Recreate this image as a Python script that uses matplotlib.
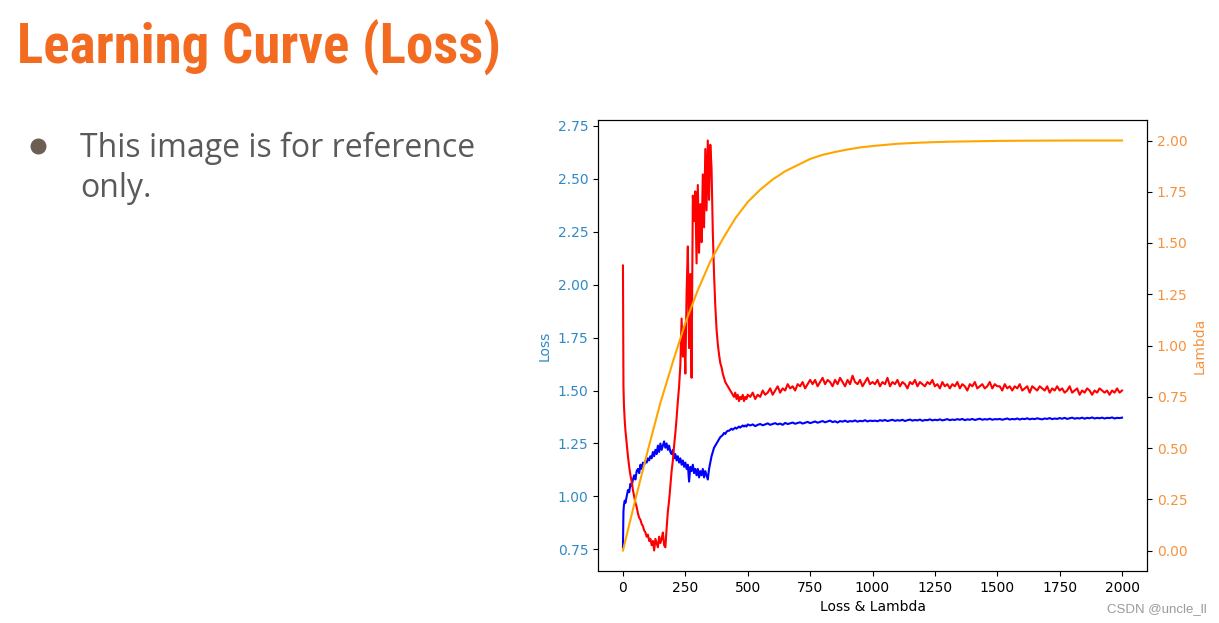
import matplotlib
matplotlib.use("Agg")
import matplotlib.pyplot as plt
import numpy as np
from matplotlib import font_manager
from matplotlib.lines import Line2D

# early part of training (steps 0..500)
early_steps = np.concatenate(([0, 1, 2, 4, 7], np.arange(10, 501, 5)))

red_early = [
    2.09, 1.78, 1.52, 1.43, 1.36,
    1.31, 1.25, 1.19, 1.14, 1.10, 1.07, 1.03, 1.00, 0.97, 0.95,
    0.92, 0.90, 0.89, 0.87, 0.86, 0.84, 0.83, 0.81, 0.82, 0.79,
    0.80, 0.77, 0.79, 0.745, 0.80, 0.78, 0.76, 0.81, 0.78, 0.80,
    0.83, 0.77, 0.76, 0.85, 0.93, 0.98, 1.05, 1.12, 1.17, 1.24,
    1.30, 1.37, 1.45, 1.52, 1.62, 1.84, 1.66, 1.80, 1.58, 1.96,
    2.18, 1.70, 2.05, 1.56, 2.42, 2.30, 2.44, 2.10, 2.47, 2.15,
    2.38, 2.20, 2.52, 2.27, 2.64, 2.35, 2.68, 2.40, 2.66, 2.55,
    2.25, 2.05, 1.90, 1.79, 1.72, 1.67, 1.63, 1.61, 1.58, 1.56,
    1.54, 1.53, 1.52, 1.51, 1.50, 1.49, 1.48, 1.47, 1.49, 1.46,
    1.48, 1.45, 1.47, 1.46, 1.48, 1.45, 1.47, 1.46, 1.48,
]

blue_early = [
    0.76, 0.85, 0.93, 0.96, 0.98,
    0.97, 1.00, 1.03, 1.02, 1.06, 1.05, 1.08, 1.10, 1.08, 1.12,
    1.13, 1.11, 1.15, 1.13, 1.16, 1.15, 1.17, 1.16, 1.18, 1.17,
    1.19, 1.18, 1.21, 1.19, 1.22, 1.20, 1.24, 1.21, 1.25, 1.22,
    1.24, 1.26, 1.23, 1.25, 1.22, 1.24, 1.21, 1.20, 1.22, 1.18,
    1.20, 1.17, 1.19, 1.16, 1.18, 1.15, 1.17, 1.14, 1.16, 1.13,
    1.15, 1.07, 1.14, 1.12, 1.15, 1.11, 1.13, 1.10, 1.13, 1.09,
    1.12, 1.10, 1.13, 1.09, 1.12, 1.10, 1.08, 1.13, 1.16, 1.19,
    1.21, 1.23, 1.24, 1.25, 1.26, 1.27, 1.28, 1.285, 1.29, 1.30,
    1.295, 1.305, 1.31, 1.31, 1.315, 1.32, 1.315, 1.32, 1.325, 1.32,
    1.325, 1.33, 1.325, 1.33, 1.335, 1.33, 1.335, 1.33, 1.34,
]

# later part (steps 510..2000, every 10 steps)
red_late = [
    1.47, 1.49, 1.46, 1.48, 1.47, 1.50, 1.48, 1.49, 1.51, 1.48, 1.50, 1.52, 1.49,
    1.51, 1.50, 1.53, 1.51, 1.52, 1.50, 1.53, 1.52, 1.54, 1.51, 1.53, 1.55,
    1.53, 1.55, 1.52, 1.54, 1.56, 1.53, 1.55, 1.54, 1.52, 1.55, 1.53, 1.56, 1.54,
    1.52, 1.55, 1.53, 1.57, 1.54, 1.53, 1.55, 1.52, 1.54, 1.56, 1.53, 1.54,
    1.53, 1.55, 1.52, 1.54, 1.53, 1.56, 1.52, 1.54, 1.53, 1.55, 1.52, 1.54, 1.53,
    1.51, 1.54, 1.53, 1.55, 1.52, 1.54, 1.53, 1.52, 1.54, 1.53, 1.55, 1.52,
    1.53, 1.51, 1.54, 1.52, 1.53, 1.51, 1.53, 1.52, 1.54, 1.51, 1.53, 1.52, 1.50,
    1.53, 1.52, 1.54, 1.51, 1.52, 1.53, 1.51, 1.52, 1.54, 1.51, 1.53, 1.52,
    1.52, 1.50, 1.53, 1.51, 1.52, 1.50, 1.52, 1.51, 1.53, 1.50, 1.51, 1.52, 1.49,
    1.52, 1.51, 1.50, 1.52, 1.51, 1.50, 1.52, 1.49, 1.51, 1.50, 1.52, 1.50,
    1.51, 1.49, 1.50, 1.52, 1.49, 1.50, 1.51, 1.48, 1.50, 1.49, 1.51, 1.50, 1.48,
    1.50, 1.49, 1.51, 1.50, 1.49, 1.50, 1.48, 1.50, 1.49, 1.51, 1.49, 1.50,
]

blue_late = [
    1.335, 1.34, 1.332, 1.338, 1.342, 1.336, 1.34, 1.345, 1.338, 1.342, 1.346, 1.34, 1.344,
    1.338, 1.347, 1.342, 1.345, 1.349, 1.343, 1.347, 1.35, 1.344, 1.348, 1.352, 1.346,
    1.35, 1.354, 1.348, 1.352, 1.356, 1.35, 1.354, 1.358, 1.351, 1.355, 1.349, 1.356, 1.353,
    1.358, 1.352, 1.356, 1.354, 1.359, 1.353, 1.357, 1.355, 1.36, 1.354, 1.358, 1.356,
    1.358, 1.355, 1.36, 1.357, 1.361, 1.356, 1.359, 1.362, 1.357, 1.36, 1.358, 1.362, 1.356,
    1.36, 1.363, 1.358, 1.361, 1.359, 1.363, 1.357, 1.361, 1.36, 1.364, 1.359, 1.362,
    1.36, 1.364, 1.359, 1.362, 1.365, 1.36, 1.363, 1.361, 1.365, 1.362, 1.366, 1.36, 1.364,
    1.362, 1.366, 1.361, 1.364, 1.367, 1.362, 1.365, 1.363, 1.367, 1.362, 1.365, 1.364,
    1.366, 1.362, 1.365, 1.368, 1.363, 1.366, 1.364, 1.368, 1.363, 1.367, 1.365, 1.369, 1.364,
    1.367, 1.365, 1.369, 1.366, 1.364, 1.368, 1.366, 1.37, 1.365, 1.368, 1.366, 1.37,
    1.367, 1.371, 1.366, 1.369, 1.372, 1.367, 1.37, 1.368, 1.372, 1.367, 1.371, 1.369, 1.373,
    1.368, 1.371, 1.369, 1.372, 1.368, 1.371, 1.37, 1.373, 1.368, 1.371, 1.37, 1.372,
]

lambda_steps = [0, 50, 100, 150, 200, 250, 300, 350, 400, 450, 500, 550, 600, 650,
                700, 750, 800, 850, 900, 950, 1000, 1100, 1200, 1300, 1400, 1500,
                1600, 1800, 2000]
lambda_values = [0.0, 0.25, 0.49, 0.72, 0.92, 1.11, 1.27, 1.41, 1.52, 1.62, 1.70,
                 1.76, 1.81, 1.85, 1.88, 1.91, 1.93, 1.944, 1.956, 1.966, 1.973,
                 1.984, 1.99, 1.994, 1.996, 1.998, 1.999, 2.0, 2.0]

title = "Learning Curve (Loss)"
bullet = ["This image is for reference", "only."]

blue_tick = "#2f8ac4"
orange_tick = "#f5923e"

W, H = 1219, 623
fig = plt.figure(figsize=(W / 100, H / 100), dpi=100)
fig.patch.set_facecolor("white")

available = {f.name for f in font_manager.fontManager.ttflist}
title_family = next((f for f in ["Liberation Sans Narrow", "Roboto Condensed",
                                 "Open Sans Condensed", "DejaVu Sans"] if f in available), "DejaVu Sans")
body_family = "Open Sans" if "Open Sans" in available else "DejaVu Sans"

# slide title, scaled to the width it has in the reference
t = fig.text(17 / W, 1 - 63 / H, title, color="#f26b21", fontsize=40,
             fontweight="bold", family=title_family, va="baseline", ha="left")
fig.canvas.draw()
w = t.get_window_extent().width
t.set_fontsize(40 * 483 / w)

# bullet point
fig.add_artist(Line2D([38 / W], [1 - 146 / H], marker="o", markersize=10.5,
                      color="#6a5f52", transform=fig.transFigure))
fig.text(80 / W, 1 - 157 / H, bullet[0], color="#5a5a5a", fontsize=23,
         family=body_family, va="baseline")
fig.text(80 / W, 1 - 197 / H, bullet[1], color="#5a5a5a", fontsize=23,
         family=body_family, va="baseline")

# chart
ax = fig.add_axes([598 / W, 1 - 571 / H, (1147 - 598) / W, (571 - 120) / H])
steps_late = np.linspace(510, 2000, len(red_late))
ax.plot(np.concatenate((early_steps, steps_late)), blue_early + blue_late, color="blue")
ax.plot(np.concatenate((early_steps, steps_late)), red_early + red_late, color="red")
ax.set_ylabel("Loss", color=blue_tick)
ax.tick_params(axis="y", labelcolor=blue_tick)
ax.set_xlabel("Loss & Lambda")
ax.set_yticks([0.75, 1.0, 1.25, 1.5, 1.75, 2.0, 2.25, 2.5, 2.75])

ax2 = ax.twinx()
ax2.plot(lambda_steps, lambda_values, color="orange")
ax2.set_ylabel("Lambda", color=orange_tick)
ax2.tick_params(axis="y", labelcolor=orange_tick)
ax2.set_yticks([0.0, 0.25, 0.5, 0.75, 1.0, 1.25, 1.5, 1.75, 2.0])
ax.set_xticks([0, 250, 500, 750, 1000, 1250, 1500, 1750, 2000])

fig.text(1107 / W, 1 - 612 / H, "CSDN @uncle_ll", color="#9a9a9a", fontsize=9.5,
         family="Liberation Sans", va="baseline")

fig.savefig("out.png", dpi=100)
